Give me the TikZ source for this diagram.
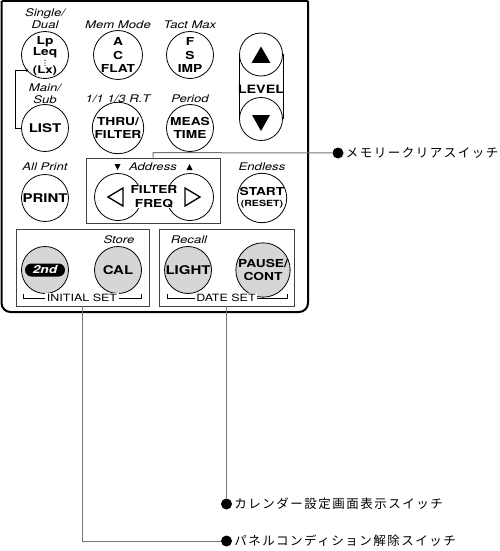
\documentclass[tikz,border=0pt]{standalone}
\usepackage{fontspec}
\setmainfont{TeX Gyre Heros}[FakeStretch=1.25]
\newfontfamily\jpfont{Noto Sans CJK JP}[LetterSpace=12]
\usetikzlibrary{positioning}

\tikzset{
  btn/.style={circle, draw, line width=0.8pt, minimum size=47pt, inner sep=0pt, align=center,
    font=\bfseries\fontsize{11}{13.5}\selectfont},
  bigbtn/.style={font=\bfseries\fontsize{12}{13}\selectfont},
  graybtn/.style={fill=black!16},
  lbl/.style={inner sep=0pt, align=center, font=\itshape\fontsize{10.5}{12}\selectfont},
  grp/.style={draw=black!75, line width=0.8pt, inner sep=0pt},
  wire/.style={draw=black!55, line width=1pt},
  bigdot/.style={circle, fill, inner sep=0pt, minimum size=11pt},
  jp/.style={inner sep=0pt, font=\jpfont\fontsize{12.5}{14}\selectfont},
  setlbl/.style={fill=white, inner sep=1.5pt, font=\fontsize{10}{10}\selectfont},
}

\begin{document}
\begin{tikzpicture}[x=1pt,y=-1pt]
	\useasboundingbox (0,0) rectangle (500,551);
	% panel outline
	\draw[line width=2pt] (1.5,1) -- (308,1);
	\draw[line width=2pt, rounded corners=9pt] (1.5,1) -- (1.5,312) -- (308,312) -- (308,1);

	% first row
	\node[lbl] (singlelbl) at (45,19) {Single/\\Dual};
	\node[btn] (lpleq) at (45,55) {};
	\node[inner sep=0pt, align=center, font=\bfseries\fontsize{11}{11}\selectfont] (lptxt) at (45,47.5) {Lp\\Leq};
	\node[inner sep=0pt, font=\bfseries\fontsize{10.5}{10.5}\selectfont] (lxtxt) at (45,71) {(Lx)};
	\foreach \yy in {60.5,63,65.5}
		\fill (45,\yy) circle (0.6pt);
	\node[lbl] (memlbl) at (118,25) {Mem Mode};
	\node[btn] (acflat) at (118,55) {A\\C\\FLAT};
	\node[lbl] (tactlbl) at (190,25) {Tact Max};
	\node[btn] (fsimp) at (190,55) {F\\S\\IMP};

	% level keys
	\node[btn, minimum size=43pt] (lvup) at (261,54.5) {};
	\node[btn, minimum size=43pt] (lvdown) at (261,119) {};
	\draw[line width=0.8pt] (lvup.west) -- (lvdown.west);
	\draw[line width=0.8pt] (lvup.east) -- (lvdown.east);
	\node[inner sep=0pt, font=\bfseries\fontsize{11.5}{12}\selectfont] (level) at (261,89) {LEVEL};
	\fill (261,46.5) -- (270.5,63) -- (251.5,63) -- cycle;
	\fill (252,115) -- (270,115) -- (261,131) -- cycle;

	% second row
	\node[lbl] (mainlbl) at (45,93.5) {Main/\\Sub};
	\node[btn, bigbtn] (list) at (45,128) {LIST};
	\node[lbl] (ratelbl) at (118,99) {1/1 1/3 R.T};
	\node[btn] (thru) at (118,128) {THRU/\\FILTER};
	\node[lbl] (periodlbl) at (190,99) {Period};
	\node[btn] (meas) at (190,128) {MEAS\\TIME};
	\fill (lpleq.220) circle (1.5pt);
	\draw[line width=0.7pt] (lpleq.220) -- ++(-11,0) |- (list.west);

	% third row
	\node[lbl] (printlbl) at (45,167) {All Print};
	\node[btn, bigbtn] (print) at (45,198) {PRINT};
	\node[grp, minimum width=134pt, minimum height=65pt] (addrbox) at (153,190.5) {};
	\node[lbl] (addrlbl) at (153,167) {Address};
	\fill (114.5,164) -- (120.5,164) -- (117.5,170) -- cycle;
	\fill (186.5,170) -- (192.5,170) -- (189.5,164) -- cycle;
	\node[btn] (fltleft) at (118,197) {};
	\node[btn] (fltright) at (190,197) {};
	\draw[line width=1.3pt, line join=miter] (123,188) -- (108,197) -- (123,206) -- cycle;
	\draw[line width=1.3pt, line join=miter] (185,188) -- (200,197) -- (185,206) -- cycle;
	\node[fill=white, inner sep=1pt, align=center, font=\bfseries\fontsize{11}{13.5}\selectfont] (filtfreq) at (154,196.5) {FILTER\\FREQ};
	\node[lbl] (endlbl) at (262,167) {Endless};
	\node[btn] (start) at (262,198) {START\\[-2pt]{\fontsize{8.5}{9}\selectfont(RESET)}};

	% fourth row
	\node[grp, minimum width=133pt, minimum height=77pt] (initbox) at (82.5,267.5) {};
	\node[grp, minimum width=135pt, minimum height=77pt] (datebox) at (226.5,267.5) {};
	\node[lbl] (storelbl) at (119,240) {Store};
	\node[lbl] (recalllbl) at (189,240) {Recall};
	\node[btn, graybtn] (second) at (45,270) {};
	\node[fill, rounded corners=6.5pt, minimum width=40pt, minimum height=13pt, inner sep=0pt,
		text=white, font=\bfseries\itshape\fontsize{11}{11}\selectfont] (secondtxt) at (45,270) {2nd};
	\node[btn, graybtn, bigbtn] (cal) at (118,270) {CAL};
	\node[btn, graybtn, bigbtn] (light) at (188,270) {LIGHT};
	\node[btn, graybtn] (pause) at (263,270) {PAUSE/\\CONT};
	\draw[line width=0.6pt] (23,294) |- (141,298) -- (141,294);
	\node[setlbl] (initlbl) at (82,298) {INITIAL SET};
	\draw[line width=0.6pt] (167,294) |- (287,298) -- (287,294);
	\node[setlbl] (datelbl) at (226,298) {DATE SET};

	% switch notes
	\node[bigdot] (memdot) at (338,153) {};
	\node[jp, right=2pt of memdot] (memtxt) {メモリークリアスイッチ};
	\draw[wire] (addrbox.north) -- ++(0,-5) -- (memdot);
	\node[bigdot] (caldot) at (226.5,504) {};
	\node[jp, right=2pt of caldot] (caltxt) {カレンダー設定画面表示スイッチ};
	\draw[wire] (datebox.south) -- (caldot);
	\node[bigdot] (paneldot) at (226.5,541) {};
	\node[jp, right=2pt of paneldot] (paneltxt) {パネルコンディション解除スイッチ};
	\draw[wire] (initbox.south) |- (paneldot);
\end{tikzpicture}
\end{document}
